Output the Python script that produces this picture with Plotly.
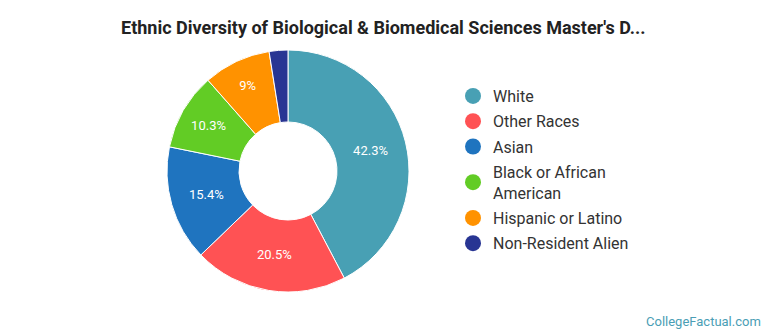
import plotly.graph_objects as go

categories = ["White", "Other Races", "Asian", "Black or African<br>American", "Hispanic or Latino", "Non-Resident Alien"]
values = [42.3, 20.5, 15.4, 10.3, 9.0, 2.5]
colors = ["#48A0B4", "#FF5254", "#1F74BF", "#62CC25", "#FF9200", "#283593"]
slice_text = [f"{v:g}%" if v >= 5 else "" for v in values]

W, H = 770, 335
cx, cy, r = 288, 171, 121

fig = go.Figure()
fig.add_trace(go.Pie(
    labels=categories, values=values, sort=False, direction="clockwise", rotation=0,
    hole=0.405, text=slice_text, textinfo="text", textposition="inside",
    insidetextorientation="horizontal",
    textfont=dict(family="Roboto", size=13, color="white"),
    marker=dict(colors=colors, line=dict(color="white", width=1)),
    domain=dict(x=[(cx - r) / W, (cx + r) / W], y=[1 - (cy + r) / H, 1 - (cy - r) / H]),
    showlegend=False, hoverinfo="label+percent",
))
for i, (cat, col) in enumerate(zip(categories, colors)):
    fig.add_trace(go.Scatter(x=[None], y=[None], mode="markers", name=cat, legendgroup=f"g{i}",
                             marker=dict(color=col, size=16, symbol="circle")))

fig.update_layout(
    width=W, height=H, margin=dict(l=0, r=0, t=0, b=0),
    paper_bgcolor="white", plot_bgcolor="white",
    xaxis=dict(visible=False), yaxis=dict(visible=False),
    legend=dict(x=453 / W, y=1 - 79 / H, xanchor="left", yanchor="top",
                font=dict(family="Roboto", size=16, color="#333333"),
                itemsizing="trace", tracegroupgap=1.5, bgcolor="rgba(0,0,0,0)"),
    annotations=[
        dict(text="<b>Ethnic Diversity of Biological & Biomedical Sciences Master's D...</b>",
             x=383 / W, y=1 - 27 / H, xref="paper", yref="paper", showarrow=False,
             xanchor="center", yanchor="middle",
             font=dict(family="Roboto", size=18, color="#222222")),
        dict(text="CollegeFactual.com", x=763 / W, y=1 - 321 / H, xref="paper", yref="paper",
             showarrow=False, xanchor="right", yanchor="middle",
             font=dict(family="Roboto", size=13, color="#4A9EB5")),
    ],
)
fig.write_html("out.html")
